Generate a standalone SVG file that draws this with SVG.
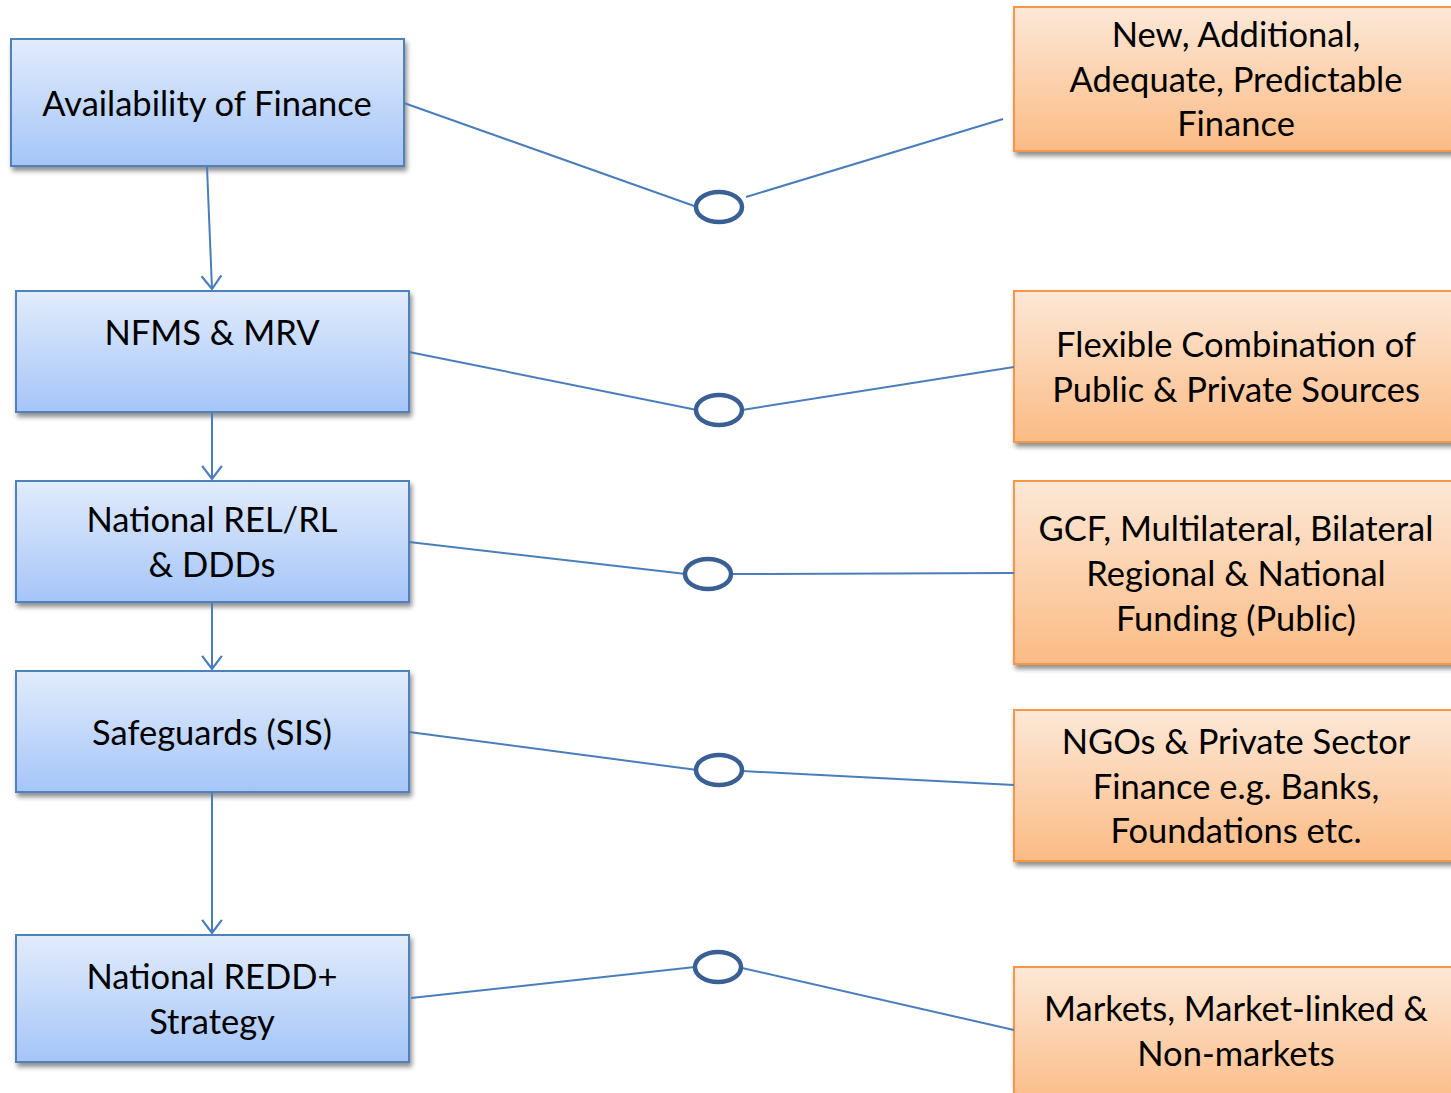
<svg xmlns="http://www.w3.org/2000/svg" width="1451" height="1093" viewBox="0 0 1451 1093">
<defs>
<linearGradient id="gb" x1="0" y1="0" x2="0" y2="1"><stop offset="0" stop-color="#e2ecfc"/><stop offset="1" stop-color="#a5c5f8"/></linearGradient>
<linearGradient id="go" x1="0" y1="0" x2="0" y2="1"><stop offset="0" stop-color="#fde8d7"/><stop offset="1" stop-color="#fbbb85"/></linearGradient>
<filter id="sh" x="-5%" y="-5%" width="115%" height="125%"><feGaussianBlur in="SourceAlpha" stdDeviation="2.5"/><feOffset dx="2" dy="4"/><feComponentTransfer><feFuncA type="linear" slope="0.45"/></feComponentTransfer><feMerge><feMergeNode/><feMergeNode in="SourceGraphic"/></feMerge></filter>
<marker id="ar" viewBox="0 0 20 20" refX="18" refY="10" markerWidth="22" markerHeight="22" markerUnits="userSpaceOnUse" orient="auto"><path d="M6,1 L18,10 L6,19" fill="none" stroke="#4a7ebb" stroke-width="2"/></marker>
</defs>
<style>
.b{fill:url(#gb);stroke:#4f81bd;stroke-width:2;filter:url(#sh)}
.o{fill:url(#go);stroke:#f79646;stroke-width:2;filter:url(#sh)}
text{font-family:Lato,"Liberation Sans",sans-serif;font-size:34.5px;fill:#000;text-anchor:middle}
.c line,.c path{stroke:#4a7ebb;stroke-width:2;fill:none}
.c ellipse{fill:#fff;stroke:#3a5f94;stroke-width:4.5}
</style>
<rect width="1451" height="1093" fill="#fff"/>
<g id="n1"><rect class="b" x="11" y="39" width="393" height="127"/><text x="207" y="116">Availability of Finance</text></g>
<g id="n2"><rect class="b" x="16" y="291" width="393" height="121"/><text x="212" y="345">NFMS &amp; MRV</text></g>
<g id="n3"><rect class="b" x="16" y="481" width="393" height="121"/><text x="212" y="532">National REL/RL</text><text x="212" y="577">&amp; DDDs</text></g>
<g id="n4"><rect class="b" x="16" y="671" width="393" height="121"/><text x="212" y="745">Safeguards (SIS)</text></g>
<g id="n5"><rect class="b" x="16" y="935" width="393" height="127"/><text x="212" y="989">National REDD+</text><text x="212" y="1034">Strategy</text></g>
<g id="o1"><rect class="o" x="1014" y="7" width="450" height="144"/><text x="1236" y="47">New, Additional,</text><text x="1236" y="92">Adequate, Predictable</text><text x="1236" y="136">Finance</text></g>
<g id="o2"><rect class="o" x="1014" y="291" width="450" height="151"/><text x="1236" y="357">Flexible Combination of</text><text x="1236" y="402">Public &amp; Private Sources</text></g>
<g id="o3"><rect class="o" x="1014" y="481" width="450" height="183"/><text x="1236" y="541">GCF, Multilateral, Bilateral</text><text x="1236" y="586">Regional &amp; National</text><text x="1236" y="631">Funding (Public)</text></g>
<g id="o4"><rect class="o" x="1014" y="710" width="450" height="151"/><text x="1236" y="754">NGOs &amp; Private Sector</text><text x="1236" y="799">Finance e.g. Banks,</text><text x="1236" y="843">Foundations etc.</text></g>
<g id="o5"><rect class="o" x="1014" y="967" width="450" height="140"/><text x="1236" y="1021">Markets, Market-linked &amp;</text><text x="1236" y="1066">Non-markets</text></g>
<g class="c" id="connectors">
<line x1="207" y1="167" x2="212" y2="289" marker-end="url(#ar)"/>
<line x1="212" y1="413" x2="212" y2="479" marker-end="url(#ar)"/>
<line x1="212" y1="603" x2="212" y2="669" marker-end="url(#ar)"/>
<line x1="212" y1="793" x2="212" y2="933" marker-end="url(#ar)"/>
<line x1="404" y1="103" x2="697" y2="207"/><line x1="746" y1="197" x2="1003" y2="119"/>
<line x1="409" y1="352" x2="697" y2="410"/><line x1="742" y1="410" x2="1014" y2="367"/>
<line x1="409" y1="542" x2="686" y2="574"/><line x1="731" y1="574" x2="1014" y2="573"/>
<line x1="409" y1="732" x2="697" y2="770"/><line x1="742" y1="771" x2="1014" y2="785"/>
<line x1="411" y1="998" x2="695" y2="967"/><line x1="742" y1="968" x2="1014" y2="1030"/>
<ellipse cx="719" cy="207" rx="23" ry="15"/>
<ellipse cx="719" cy="410" rx="23" ry="15"/>
<ellipse cx="708" cy="574" rx="23" ry="15"/>
<ellipse cx="719" cy="770" rx="23" ry="15"/>
<ellipse cx="718" cy="967" rx="23" ry="15"/>
</g>
</svg>
